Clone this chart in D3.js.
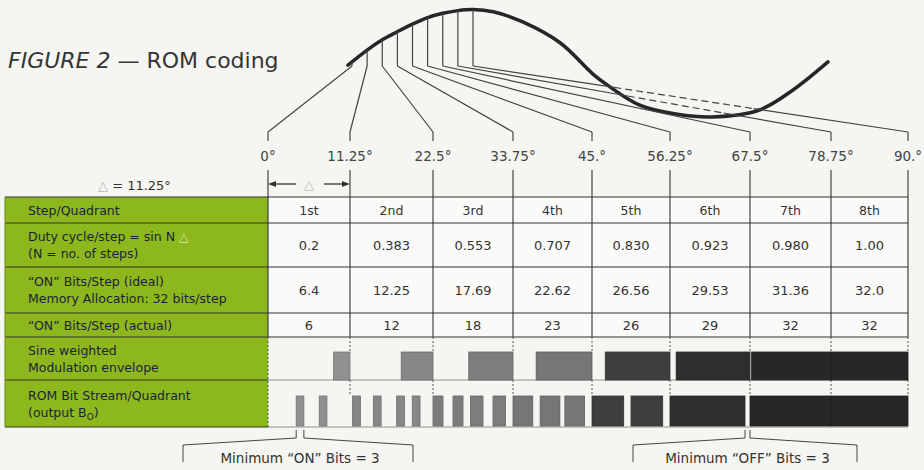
<!DOCTYPE html>
<html>
<head>
<meta charset="utf-8">
<script src="https://cdn.jsdelivr.net/npm/d3@7"></script>
<style>
  body { margin: 0; background: #f5f5f2; }
  svg { display: block; font-family: "DejaVu Sans", sans-serif; }
</style>
</head>
<body>
<svg id="svg"></svg>
<script>
/**
 * DATA
 * */
const steps = ["1st", "2nd", "3rd", "4th", "5th", "6th", "7th", "8th"];
const stepAngles = [0, 11.25, 22.5, 33.75, 45, 56.25, 67.5, 78.75, 90];
const angleLabels = ["0°", "11.25°", "22.5°", "33.75°", "45.°", "56.25°", "67.5°", "78.75°", "90.°"];
const dutyValues = [0.2, 0.383, 0.553, 0.707, 0.830, 0.923, 0.980, 1.00];
const dutyLabels = ["0.2", "0.383", "0.553", "0.707", "0.830", "0.923", "0.980", "1.00"];
const idealBits = ["6.4", "12.25", "17.69", "22.62", "26.56", "29.53", "31.36", "32.0"];
const actualBits = ["6", "12", "18", "23", "26", "29", "32", "32"];
// ON pulses in each step: [first bit, number of bits], 32 bits per step
const bitPulses = [
  [[11, 3], [20, 3]],
  [[1, 3], [9, 3], [18, 3], [24, 3]],
  [[0, 4], [8, 4], [15, 5], [24, 5]],
  [[0, 8], [11, 8], [21, 8]],
  [[0, 13], [16, 13]],
  [[0, 30]],
  [[0, 32]],
  [[0, 32]]
];
const stepShades = ["#909090", "#878787", "#7d7d7d", "#767676", "#3e3e3e", "#2f2f2f", "#272727", "#272727"];
// hand-drawn sine above the table (phase in degrees, value)
const curvePhase = [-3, 11.25, 22.5, 33.75, 45, 56.25, 67.5, 78.75, 90, 105, 127, 155, 179, 190, 214, 242, 268, 303, 328, 354];
const curveValue = [-0.04, 0.24, 0.43, 0.58, 0.72, 0.84, 0.92, 0.97, 0.99, 0.95, 0.76, 0.37, -0.2, -0.41, -0.78, -0.95, -1.0, -0.87, -0.5, 0.02];
const rowLabels = [
  ["Step/Quadrant"],
  ["Duty cycle/step = sin N △", "(N = no. of steps)"],
  ["\u201CON\u201D Bits/Step (ideal)", "Memory Allocation: 32 bits/step"],
  ["\u201CON\u201D Bits/Step (actual)"],
  ["Sine weighted", "Modulation envelope"],
  ["ROM Bit Stream/Quadrant", "(output B_O)"]
];
const tableRows = [steps, dutyLabels, idealBits, actualBits];

/**
 * LAYOUT
 * */
const width = 924, height = 470;
const rowY = [197, 223, 267, 313, 337, 380, 427];
const greenLeft = 5;

const svg = d3.select("#svg").attr("width", width).attr("height", height);

const x = d3.scaleLinear()
  .domain(stepAngles)
  .range([268, 350, 433, 513, 592, 670, 750, 831, 908]);
const xc = d3.scaleLinear().domain([0, 360]).range([352, 836]);
const yc = d3.scaleLinear().domain([-1, 1]).range([117, 9]);
const sineAt = d3.scaleLinear().domain(curvePhase).range(curveValue).clamp(true);
const bitX = (i, b) => x(stepAngles[i]) + (x(stepAngles[i + 1]) - x(stepAngles[i])) * b / 32;

// title
const title = svg.append("text").attr("x", 8).attr("y", 68)
  .attr("font-size", 22).attr("fill", "#353535");
title.append("tspan").attr("font-style", "italic").text("FIGURE 2 \u2014 ");
title.append("tspan").text("ROM coding");

// sine curve
svg.append("path")
  .datum(curvePhase.map((p, i) => [p, curveValue[i]]))
  .attr("fill", "none").attr("stroke", "#262626").attr("stroke-width", 3.5)
  .attr("stroke-linecap", "round")
  .attr("d", d3.line().x(d => xc(d[0])).y(d => yc(d[1])).curve(d3.curveCatmullRom.alpha(0.5)));

// leader lines from curve to the angle ticks
const knee = 66, tickTop = 132;
const leaders = svg.append("g").attr("stroke", "#444").attr("stroke-width", 1.2).attr("fill", "none");
stepAngles.forEach(a => {
  const hx = xc(a), hy = yc(sineAt(a)), tx = x(a);
  leaders.append("line").attr("x1", hx).attr("y1", hy).attr("x2", hx).attr("y2", knee);
  const n = 400;
  const runs = [];
  let cur = null;
  for (let k = 0; k <= n; k++) {
    const t = k / n;
    const px = hx + (tx - hx) * t, py = knee + (tickTop - knee) * t;
    const dashed = px > xc(170) && px < xc(354) && py < yc(sineAt(xc.invert(px))) - 2;
    if (!cur || cur.dashed !== dashed) {
      const start = cur ? cur.end : [px, py];
      cur = { dashed, start, end: [px, py] };
      runs.push(cur);
    } else cur.end = [px, py];
  }
  runs.forEach(r => {
    leaders.append("line")
      .attr("x1", r.start[0]).attr("y1", r.start[1])
      .attr("x2", r.end[0]).attr("y2", r.end[1])
      .attr("stroke-dasharray", r.dashed ? "7,4" : null);
  });
  leaders.append("line").attr("x1", tx).attr("y1", tickTop).attr("x2", tx).attr("y2", 141);
  leaders.append("line").attr("x1", tx).attr("y1", 170).attr("x2", tx).attr("y2", rowY[0]);
});

// angle labels
svg.append("g").selectAll("text")
  .data(stepAngles)
  .join("text")
  .attr("x", d => x(d)).attr("y", 161)
  .attr("text-anchor", "middle").attr("font-size", 13.5).attr("fill", "#444")
  .text((d, i) => angleLabels[i]);

// delta = 11.25
const dl = svg.append("text").attr("x", 98).attr("y", 190).attr("font-size", 13).attr("fill", "#333");
dl.append("tspan").attr("fill", "#b8b8b8").text("△");
dl.append("tspan").text(" = 11.25°");
const ay = 184;
const arrow = svg.append("g").attr("stroke", "#333").attr("stroke-width", 1.3);
arrow.append("line").attr("x1", x(0) + 6).attr("y1", ay).attr("x2", x(0) + 28).attr("y2", ay);
arrow.append("line").attr("x1", x(11.25) - 26).attr("y1", ay).attr("x2", x(11.25) - 6).attr("y2", ay);
svg.append("path").attr("fill", "#333")
  .attr("d", `M${x(0)},${ay}l8,-3v6z M${x(11.25)},${ay}l-8,-3v6z`);
svg.append("text").attr("x", (x(0) + x(11.25)) / 2).attr("y", ay + 5)
  .attr("text-anchor", "middle").attr("font-size", 13).attr("fill", "#c0c0c0").text("△");

// green label column
svg.append("rect").attr("x", greenLeft).attr("y", rowY[0])
  .attr("width", x(0) - greenLeft).attr("height", rowY[6] - rowY[0]).attr("fill", "#8cb81d");
svg.append("rect").attr("x", x(0)).attr("y", rowY[0])
  .attr("width", x(90) - x(0)).attr("height", rowY[4] - rowY[0]).attr("fill", "#fafaf8");

const grid = svg.append("g").attr("stroke", "#333").attr("stroke-width", 1.1);
rowY.forEach((y, i) => {
  grid.append("line").attr("x1", greenLeft).attr("x2", i <= 4 ? x(90) : x(0))
    .attr("y1", y).attr("y2", y).attr("stroke", i <= 4 ? "#333" : "#2f3a18");
});
grid.append("line").attr("x1", greenLeft).attr("x2", greenLeft).attr("y1", rowY[0]).attr("y2", rowY[6]).attr("stroke", "#6d8f1a");
stepAngles.forEach(a => {
  grid.append("line").attr("x1", x(a)).attr("x2", x(a)).attr("y1", rowY[0]).attr("y2", rowY[4]);
});
// thin base lines of the two signal rows
svg.append("g").attr("stroke", "#777").attr("stroke-width", 0.8)
  .selectAll("line").data([rowY[5], rowY[6]]).join("line")
  .attr("x1", x(0)).attr("x2", x(90)).attr("y1", d => d).attr("y2", d => d);
// dotted column marks in the signal rows
const dots = svg.append("g").attr("stroke", "#555").attr("stroke-width", 1).attr("stroke-dasharray", "2,2");
dots.append("line").attr("x1", x(0)).attr("x2", x(0)).attr("y1", rowY[4]).attr("y2", rowY[6]);
stepAngles.slice(1).forEach(a => {
  [rowY[4], rowY[5]].forEach(y => {
    dots.append("line").attr("x1", x(a)).attr("x2", x(a)).attr("y1", y).attr("y2", y + 14);
  });
});

// row labels
rowLabels.forEach((lines, r) => {
  const cy = (rowY[r] + rowY[r + 1]) / 2;
  const t = svg.append("text").attr("font-size", 12.5).attr("fill", "#1c1f38");
  lines.forEach((line, j) => {
    const ly = cy + 4.5 + (j - (lines.length - 1) / 2) * 17;
    if (line.includes("_")) {
      const [a, b] = line.split("_");
      t.append("tspan").attr("x", 28).attr("y", ly).text(a);
      t.append("tspan").attr("font-size", 9).attr("dy", 3).text(b[0]);
      t.append("tspan").attr("dy", -3).text(b.slice(1));
    } else if (line.includes("△")) {
      const [a] = line.split("△");
      t.append("tspan").attr("x", 28).attr("y", ly).text(a);
      t.append("tspan").attr("fill", "#d7e7a8").text("△");
    } else {
      t.append("tspan").attr("x", 28).attr("y", ly).text(line);
    }
  });
});

// table values
tableRows.forEach((vals, r) => {
  const cy = (rowY[r] + rowY[r + 1]) / 2;
  svg.append("g").selectAll("text").data(vals).join("text")
    .attr("x", (d, i) => (x(stepAngles[i]) + x(stepAngles[i + 1])) / 2)
    .attr("y", cy + 5)
    .attr("text-anchor", "middle")
    .attr("font-size", r === 0 ? 12.5 : 13)
    .attr("fill", "#333")
    .text(d => d);
});

// sine weighted modulation envelope
svg.append("g").selectAll("rect").data(dutyValues).join("rect")
  .attr("x", (d, i) => x(stepAngles[i + 1]) - d * (x(stepAngles[i + 1]) - x(stepAngles[i])))
  .attr("width", (d, i) => d * (x(stepAngles[i + 1]) - x(stepAngles[i])))
  .attr("y", 352).attr("height", rowY[5] - 352)
  .attr("fill", (d, i) => stepShades[i])
  .attr("stroke", (d, i) => d3.color(stepShades[i]).darker(0.6))
  .attr("stroke-width", 0.8);

// ROM bit stream
const pulses = bitPulses.flatMap((ps, i) => ps.map(p => ({ step: i, start: p[0], len: p[1] })));
svg.append("g").selectAll("rect").data(pulses).join("rect")
  .attr("x", d => bitX(d.step, d.start))
  .attr("width", d => bitX(d.step, d.start + d.len) - bitX(d.step, d.start))
  .attr("y", 396).attr("height", rowY[6] - 1 - 396)
  .attr("fill", d => stepShades[d.step])
  .attr("stroke", d => d3.color(stepShades[d.step]).darker(0.6))
  .attr("stroke-width", 0.8);

// brackets under the bit stream
function bracket(left, gapL, gapR, right, label) {
  const g = svg.append("g").attr("stroke", "#444").attr("stroke-width", 1).attr("fill", "none");
  g.append("path").attr("d", `M${left},462V445L${gapL},438V430`);
  g.append("path").attr("d", `M${gapR},430V438L${right},445V462`);
  svg.append("text").attr("x", (gapL + gapR) / 2).attr("y", 463)
    .attr("text-anchor", "middle").attr("font-size", 13.5).attr("fill", "#333").text(label);
}
bracket(183, bitX(0, 11), bitX(0, 14), 413, "Minimum \u201CON\u201D Bits = 3");
bracket(633, bitX(5, 30), bitX(6, 0), 857, "Minimum \u201COFF\u201D Bits = 3");
</script>
</body>
</html>
